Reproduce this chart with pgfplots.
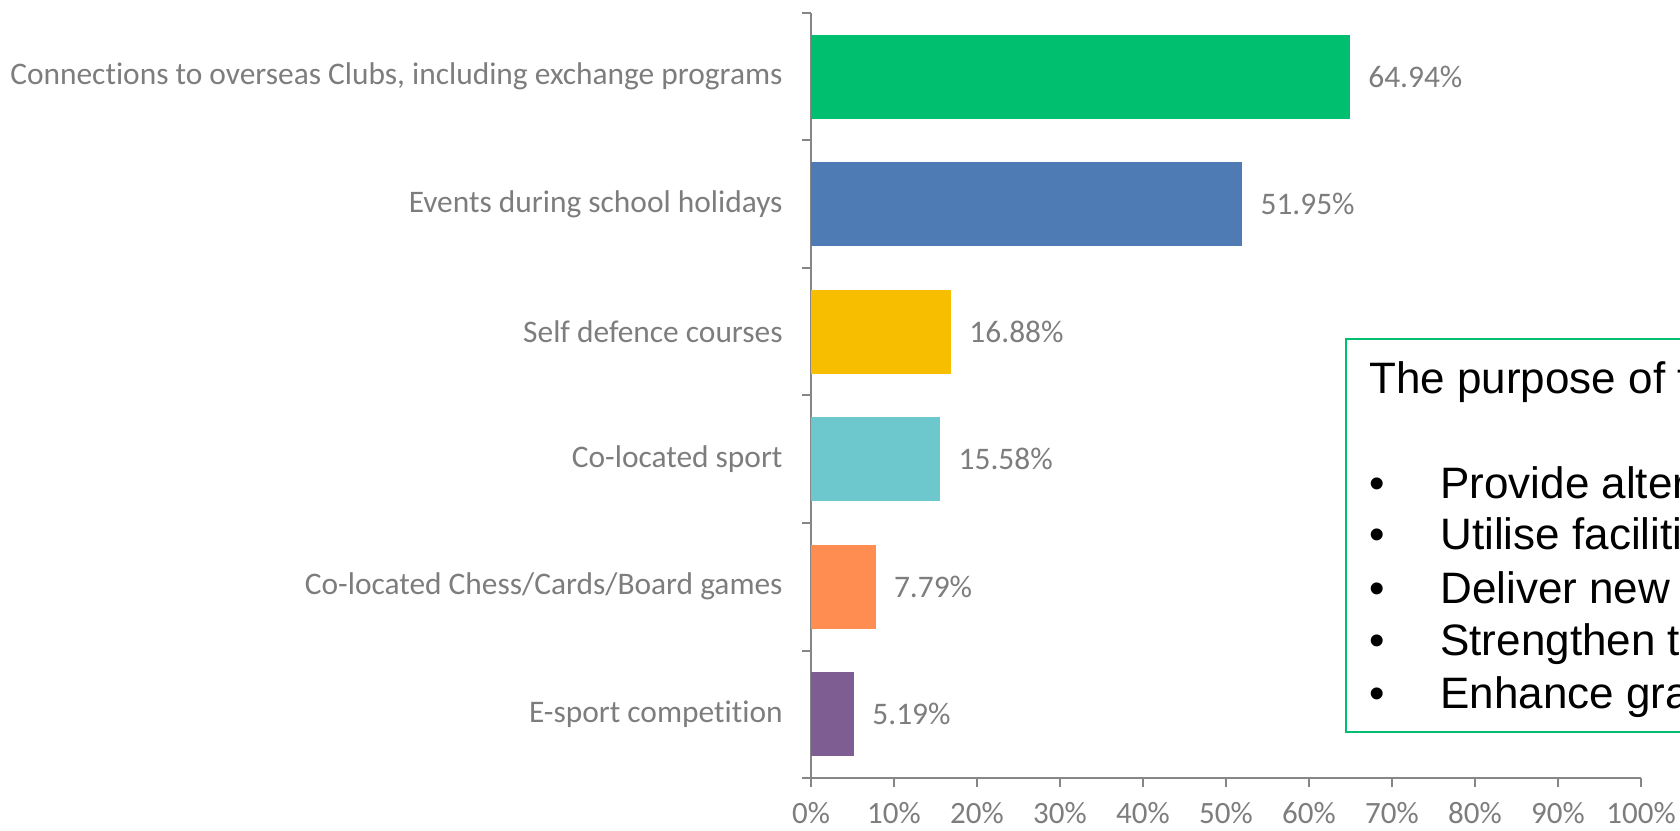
\documentclass[border=0pt]{standalone}
\usepackage{fontspec}
\setmainfont{Carlito}[Ligatures={NoCommon}]
\newfontfamily\arialfont{Liberation Sans}
\usepackage{pgfplots}
\pgfplotsset{compat=1.18}
\definecolor{cGreen}{RGB}{0,191,111}
\definecolor{cBlue}{RGB}{79,123,181}
\definecolor{cYellow}{RGB}{247,190,0}
\definecolor{cTeal}{RGB}{108,200,204}
\definecolor{cOrange}{RGB}{255,140,80}
\definecolor{cPurple}{RGB}{126,94,146}
\definecolor{axgray}{RGB}{134,134,134}
\definecolor{txtgray}{RGB}{125,125,125}
\definecolor{boxgreen}{RGB}{0,191,111}
\begin{document}
\begin{tikzpicture}
\useasboundingbox (-405.5pt,-26pt) rectangle (434.5pt,389pt);
\clip (-405.5pt,-26pt) rectangle (434.5pt,389pt);
\begin{axis}[
  at={(0,0)}, anchor=south west,
  scale only axis, width=415pt, height=382.5pt,
  xmin=0, xmax=100, ymin=-0.5, ymax=5.5,
  xbar, bar width=42pt, bar shift=0pt,
  axis x line*=bottom, axis y line*=left,
  axis line style={draw=axgray, line width=1pt},
  tick style={draw=axgray, line width=1pt},
  tick align=outside, major tick length=4.5pt,
  xtick={0,10,...,100},
  xticklabels={0\%,10\%,20\%,30\%,40\%,50\%,60\%,70\%,80\%,90\%,100\%},
  xticklabel style={font=\fontsize{15.5}{17}\selectfont, text=txtgray, inner sep=0pt, anchor=north},
  xticklabel shift=7.5pt,
  ytick={-0.5,0.5,1.5,2.5,3.5,4.5,5.5},
  yticklabels={},
  extra y ticks={0,1,2,3,4,5},
  extra y tick labels={E-sport competition,Co-located Chess/Cards/Board games,Co-located sport,Self defence courses,Events during school holidays,{Connections to overseas Clubs, including exchange programs}},
  extra y tick style={tick style={draw=none}},
  yticklabel style={font=\fontsize{15.7}{17}\selectfont, text=txtgray, inner sep=0pt, anchor=east},
  yticklabel shift=9.5pt,
  /pgf/number format/assume math mode=true,
  nodes near coords={\pgfmathprintnumber[fixed,fixed zerofill,precision=2]{\pgfplotspointmeta}\%},
  nodes near coords style={font=\fontsize{15.7}{17}\selectfont, text=txtgray, anchor=west, inner sep=0pt, xshift=9pt},
  clip=false,
]
\addplot[draw=none, fill=cPurple] coordinates {(5.19,0)};
\addplot[draw=none, fill=cOrange] coordinates {(7.79,1)};
\addplot[draw=none, fill=cTeal] coordinates {(15.58,2)};
\addplot[draw=none, fill=cYellow] coordinates {(16.88,3)};
\addplot[draw=none, fill=cBlue] coordinates {(51.95,4)};
\addplot[draw=none, fill=cGreen] coordinates {(64.94,5)};
\end{axis}
\draw[boxgreen, line width=1pt, fill=white] (267.5pt,23pt) rectangle (450pt,219.5pt);
\begin{scope}[every node/.style={font=\arialfont\fontsize{22}{26}\selectfont, text=black, inner sep=0pt}]
\node[anchor=base west] at (279pt,192.35pt) {The purpose of these activities is to:};
\foreach \yy/\tt in {139.85/Provide alternative activities for members, 114/Utilise facilities outside of regular hours, 87.35/Deliver new experiences for members, 61.5/Strengthen ties with overseas Clubs, 34.85/Enhance grassroots participation} {
  \node[anchor=base] at (283pt,\yy pt) {\textbullet};
  \node[anchor=base west] at (314.5pt,\yy pt) {\tt};
}
\end{scope}
\end{tikzpicture}
\end{document}
